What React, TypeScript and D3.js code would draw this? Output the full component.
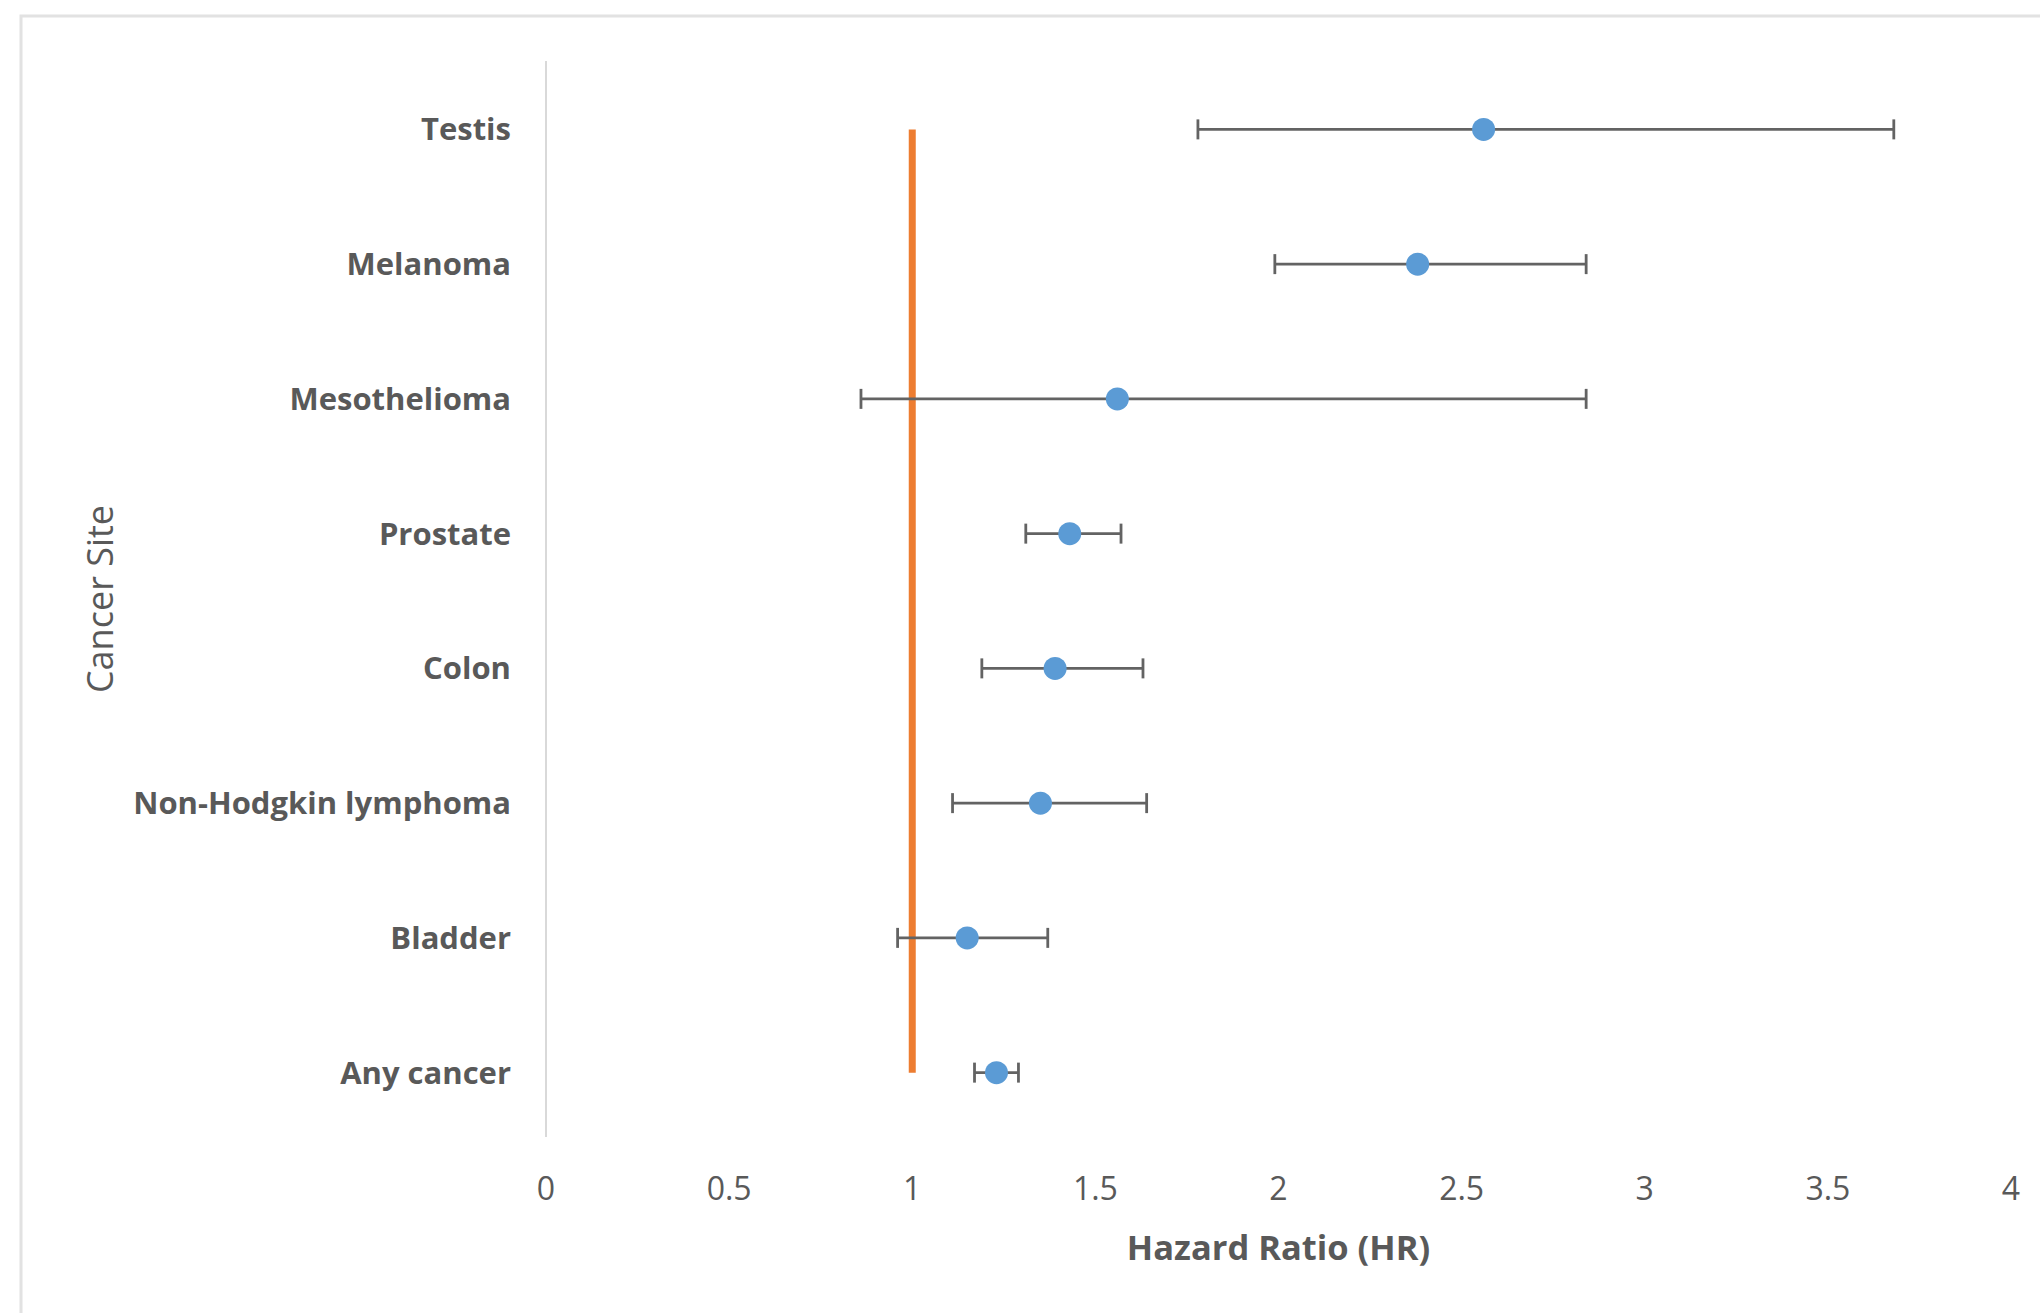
import React from "react";
import * as d3 from "d3";

const categories = [
  "Testis",
  "Melanoma",
  "Mesothelioma",
  "Prostate",
  "Colon",
  "Non-Hodgkin lymphoma",
  "Bladder",
  "Any cancer",
];
const hazardRatio = [2.56, 2.38, 1.56, 1.43, 1.39, 1.35, 1.15, 1.23];
const lowerCI = [1.78, 1.99, 0.86, 1.31, 1.19, 1.11, 0.96, 1.17];
const upperCI = [3.68, 2.84, 2.84, 1.57, 1.63, 1.64, 1.37, 1.29];
const xTicks = [0, 0.5, 1, 1.5, 2, 2.5, 3, 3.5, 4];
const referenceHR = 1;

const W = 2040;
const H = 1313;
const left = 546;
const right = 2011;
const top = 62;
const bottom = 1140;

export default function App() {
  const x = d3.scaleLinear().domain([0, 4]).range([left, right]);
  const y = d3
    .scaleBand<string>()
    .domain(categories)
    .range([top, bottom])
    .paddingInner(0)
    .paddingOuter(0);
  const yc = (c: string) => (y(c) as number) + y.bandwidth() / 2;
  const font = "'Open Sans', 'Noto Sans', sans-serif";
  const gray = "#595959";
  const cap = 10;

  return (
    <div style={{ position: "absolute", left: 0, top: 0 }}>
      <svg width={W} height={H} style={{ display: "block", background: "#fff" }}>
        <rect x={21} y={16} width={W + 50} height={H + 50} fill="#fff" stroke="#e2e2e2" strokeWidth={3} />
        {/* y axis line */}
        <line x1={x(0)} x2={x(0)} y1={61} y2={1137} stroke="#d9d9d9" strokeWidth={2} />
        {/* category labels */}
        {categories.map((c) => (
          <text
            key={c}
            x={x(0) - 35}
            y={yc(c) - 1}
            textAnchor="end"
            dominantBaseline="central"
            fontFamily={font}
            fontWeight={700}
            fontSize={31}
            fill={gray}
          >
            {c}
          </text>
        ))}
        {/* x tick labels */}
        {xTicks.map((t) => (
          <text
            key={t}
            x={x(t)}
            y={1200}
            textAnchor="middle"
            fontFamily={font}
            fontSize={32}
            fill={gray}
          >
            {String(t)}
          </text>
        ))}
        {/* axis titles */}
        <text
          x={(left + right) / 2}
          y={1260}
          textAnchor="middle"
          fontFamily={font}
          fontWeight={700}
          fontSize={34.5}
          fill={gray}
        >
          Hazard Ratio (HR)
        </text>
        <text
          transform={`translate(113, ${(61 + 1137) / 2}) rotate(-90)`}
          textAnchor="middle"
          fontFamily={font}
          fontSize={36}
          fill={gray}
        >
          Cancer Site
        </text>
        {/* reference line */}
        <line
          x1={x(referenceHR)}
          x2={x(referenceHR)}
          y1={yc(categories[0])}
          y2={yc(categories[categories.length - 1])}
          stroke="#ED7D31"
          strokeWidth={7}
        />
        {/* error bars */}
        {categories.map((c, i) => (
          <g key={c} stroke="#636363" strokeWidth={2.8}>
            <line x1={x(lowerCI[i])} x2={x(upperCI[i])} y1={yc(c)} y2={yc(c)} />
            <line x1={x(lowerCI[i])} x2={x(lowerCI[i])} y1={yc(c) - cap} y2={yc(c) + cap} />
            <line x1={x(upperCI[i])} x2={x(upperCI[i])} y1={yc(c) - cap} y2={yc(c) + cap} />
          </g>
        ))}
        {/* points */}
        {categories.map((c, i) => (
          <circle key={c} cx={x(hazardRatio[i])} cy={yc(c)} r={11.5} fill="#5B9BD5" />
        ))}
      </svg>
    </div>
  );
}
